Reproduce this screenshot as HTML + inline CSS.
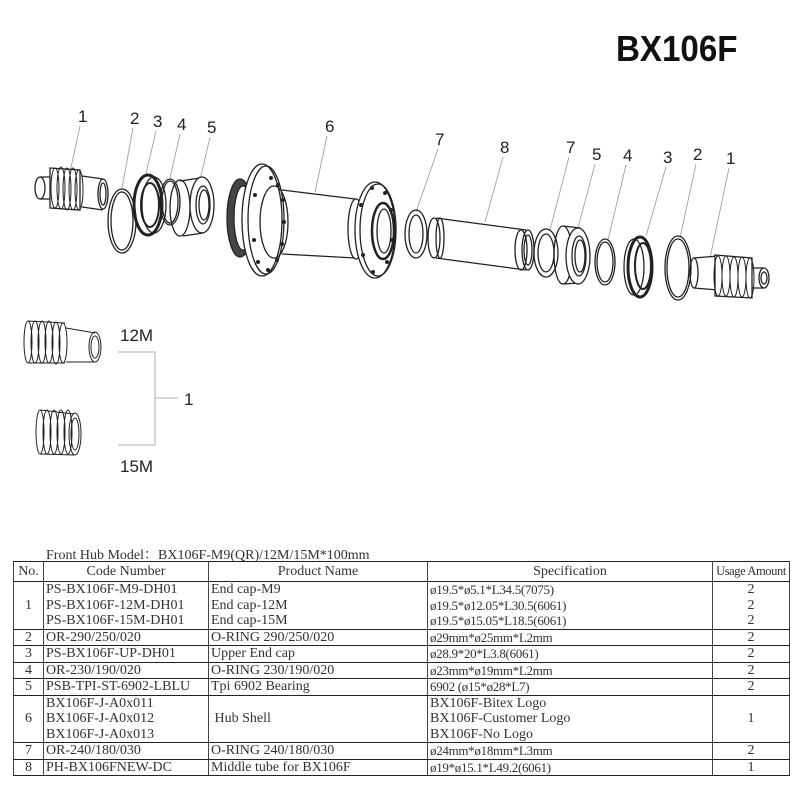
<!DOCTYPE html>
<html><head><meta charset="utf-8"><style>
body{margin:0;background:#fff;width:800px;height:800px;overflow:hidden;position:relative;font-family:"Liberation Sans",sans-serif}
#title{position:absolute;left:616px;top:28px;font-size:36px;font-weight:bold;color:#111;transform:scaleX(0.92);transform-origin:left}
table{position:absolute;left:13px;top:561px;border-collapse:collapse;font-family:"Liberation Serif","Noto Serif CJK SC",serif;font-size:14px;color:#333;table-layout:fixed}
td{border-left:1px solid #444;border-right:1px solid #444;padding:0 2px;line-height:15.5px;height:15.5px;white-space:nowrap;overflow:hidden}
tr.b td{border-bottom:1.5px solid #222}
tr.t td{border-top:1.5px solid #222}
.c{text-align:center}
.s{font-size:13px;letter-spacing:-0.3px}
#cap{position:absolute;left:46px;top:544px;font-family:"Liberation Serif","Noto Serif CJK SC",serif;font-size:14px;color:#333}
</style></head><body>
<div id="title">BX106F</div>
<svg width="800" height="540" style="position:absolute;left:0;top:0" fill="none" stroke="#222" stroke-width="1.3">
<g font-family="Liberation Sans,sans-serif" font-size="17" fill="#222" stroke="none">
<text x="78" y="122">1</text><text x="130" y="124">2</text><text x="153" y="127">3</text><text x="177" y="130">4</text><text x="207" y="133">5</text><text x="325" y="132">6</text><text x="435" y="145">7</text><text x="500" y="153">8</text><text x="566" y="153">7</text><text x="592" y="160">5</text><text x="623" y="161">4</text><text x="663" y="163">3</text><text x="693" y="160">2</text><text x="726" y="164">1</text>
<text x="120" y="341">12M</text><text x="120" y="472">15M</text><text x="184" y="405">1</text>
</g>
<g stroke="#999" stroke-width="0.8">
<line x1="80" y1="126" x2="70" y2="172"/><line x1="133" y1="128" x2="122" y2="188"/><line x1="156" y1="131" x2="146" y2="174"/><line x1="180" y1="134" x2="170" y2="178"/><line x1="210" y1="137" x2="200" y2="180"/><line x1="327" y1="136" x2="315" y2="192"/><line x1="438" y1="149" x2="416" y2="212"/><line x1="503" y1="157" x2="485" y2="222"/><line x1="569" y1="157" x2="550" y2="230"/><line x1="595" y1="164" x2="578" y2="228"/><line x1="626" y1="165" x2="608" y2="240"/><line x1="666" y1="167" x2="646" y2="236"/><line x1="696" y1="164" x2="680" y2="238"/><line x1="729" y1="168" x2="710" y2="258"/>
<polyline points="118,352 155,352 155,445 118,445"/><line x1="155" y1="398" x2="178" y2="398"/>
</g>
<ellipse cx="40" cy="188" rx="5" ry="11"/><path d="M40 177 L50 177 M40 199 L50 199"/>
<path d="M50 168 L80 170 L80 210 L50 208 Z" fill="#fff"/>
<g stroke-width="1"><ellipse cx="55" cy="188" rx="4" ry="20"/><ellipse cx="61" cy="188" rx="4" ry="21"/><ellipse cx="67" cy="189" rx="4" ry="21"/><ellipse cx="73" cy="189" rx="4" ry="21"/><ellipse cx="79" cy="190" rx="4" ry="20"/></g>
<path d="M82 176 L103 179 M82 207 L103 210"/><ellipse cx="103" cy="194" rx="5" ry="15"/><ellipse cx="103" cy="194" rx="3" ry="11"/>
<ellipse cx="122" cy="221" rx="14" ry="32"/><ellipse cx="122" cy="221" rx="11" ry="29"/>
<ellipse cx="148" cy="205" rx="14" ry="30" stroke-width="3"/><ellipse cx="150" cy="205" rx="9" ry="22" stroke-width="2"/><ellipse cx="154" cy="205" rx="12" ry="28"/>
<ellipse cx="170" cy="202" rx="10" ry="23"/><ellipse cx="170" cy="202" rx="8" ry="21"/>
<path d="M180 181 L200 178 M183 236 L203 233"/><ellipse cx="180" cy="208" rx="10" ry="28"/><ellipse cx="202" cy="205" rx="12" ry="28" fill="#fff"/><ellipse cx="203" cy="205" rx="7" ry="19"/><ellipse cx="204" cy="205" rx="5" ry="15"/>
<ellipse cx="240" cy="218" rx="13" ry="39" fill="#444"/><ellipse cx="243" cy="218" rx="9" ry="32" fill="#fff"/>
<ellipse cx="262" cy="220" rx="20" ry="56" fill="#fff"/><ellipse cx="266" cy="220" rx="18" ry="54"/><ellipse cx="274" cy="222" rx="14" ry="36"/>
<g fill="#222" stroke="none"><circle cx="271" cy="178" r="2"/><circle cx="278" cy="185" r="2"/><circle cx="283" cy="200" r="2"/><circle cx="284" cy="222" r="2"/><circle cx="282" cy="244" r="2"/><circle cx="277" cy="260" r="2"/><circle cx="268" cy="270" r="2"/><circle cx="258" cy="262" r="2"/><circle cx="254" cy="240" r="2"/><circle cx="255" cy="195" r="2"/></g>
<path d="M282 190 L355 199 M282 254 L355 258"/>
<ellipse cx="356" cy="229" rx="8" ry="30"/>
<ellipse cx="375" cy="230" rx="20" ry="48" fill="#fff"/><ellipse cx="378" cy="230" rx="18" ry="46"/><ellipse cx="383" cy="231" rx="11" ry="28" stroke-width="2.5"/><ellipse cx="384" cy="231" rx="7" ry="22"/>
<g fill="#222" stroke="none"><circle cx="372" cy="188" r="2"/><circle cx="385" cy="193" r="2"/><circle cx="391" cy="210" r="2"/><circle cx="392" cy="240" r="2"/><circle cx="387" cy="262" r="2"/><circle cx="373" cy="272" r="2"/><circle cx="363" cy="255" r="2"/><circle cx="361" cy="205" r="2"/></g>
<ellipse cx="416" cy="234" rx="11" ry="24"/><ellipse cx="416" cy="234" rx="7" ry="19"/>
<ellipse cx="434" cy="238" rx="6" ry="20" fill="#fff"/><path d="M436 218 L526 230 M436 258 L526 270"/><ellipse cx="440" cy="238" rx="4" ry="20"/>
<ellipse cx="521" cy="250" rx="6" ry="20"/><ellipse cx="528" cy="250" rx="6" ry="20"/><ellipse cx="528" cy="250" rx="4" ry="15"/>
<ellipse cx="546" cy="253" rx="12" ry="24"/><ellipse cx="546" cy="253" rx="8" ry="19"/>
<path d="M563 226 L580 228 M563 284 L580 283"/><ellipse cx="563" cy="255" rx="9" ry="29"/><ellipse cx="578" cy="256" rx="12" ry="28" fill="#fff"/><ellipse cx="579" cy="256" rx="7" ry="20"/><ellipse cx="580" cy="256" rx="5" ry="16"/>
<ellipse cx="605" cy="262" rx="10" ry="23"/><ellipse cx="605" cy="262" rx="8" ry="20"/>
<ellipse cx="640" cy="267" rx="12" ry="30" stroke-width="3"/><ellipse cx="643" cy="266" rx="8" ry="23" stroke-width="2"/><ellipse cx="634" cy="267" rx="10" ry="28"/>
<ellipse cx="678" cy="268" rx="13" ry="32"/><ellipse cx="678" cy="268" rx="11" ry="29"/>
<ellipse cx="694" cy="273" rx="4" ry="15"/><path d="M694 258 L718 256 M694 288 L718 290"/>
<path d="M715 255 L752 258 L752 298 L715 296 Z" fill="#fff"/>
<g stroke-width="1"><ellipse cx="718" cy="276" rx="4" ry="20"/><ellipse cx="726" cy="276" rx="4" ry="20"/><ellipse cx="734" cy="277" rx="4" ry="20"/><ellipse cx="742" cy="277" rx="4" ry="20"/><ellipse cx="750" cy="278" rx="4" ry="20"/></g>
<path d="M752 268 L764 268 M752 288 L764 288"/><ellipse cx="764" cy="278" rx="5" ry="10"/><ellipse cx="764" cy="278" rx="3" ry="6"/>
<g stroke-width="1">
<ellipse cx="28" cy="342" rx="4" ry="21"/><ellipse cx="35" cy="342" rx="4" ry="21"/><ellipse cx="42" cy="342" rx="4" ry="21"/><ellipse cx="49" cy="342" rx="4" ry="21"/><ellipse cx="56" cy="343" rx="4" ry="21"/><ellipse cx="63" cy="343" rx="4" ry="20"/>
<path d="M28 321 L65 323 M28 363 L65 363 M66 328 L95 333 M66 362 L95 362"/><ellipse cx="95" cy="347" rx="6" ry="15"/><ellipse cx="95" cy="347" rx="4" ry="11"/>
<ellipse cx="40" cy="432" rx="4" ry="22"/><ellipse cx="47" cy="432" rx="4" ry="22"/><ellipse cx="54" cy="432" rx="4" ry="22"/><ellipse cx="61" cy="432" rx="4" ry="22"/><ellipse cx="68" cy="432" rx="4" ry="22"/>
<path d="M40 410 L74 414 M40 454 L74 455"/><ellipse cx="75" cy="434" rx="6" ry="21"/><ellipse cx="75" cy="434" rx="4" ry="16"/>
</g>
</svg>
<div id="cap">Front Hub Model：BX106F-M9(QR)/12M/15M*100mm</div>
<table>
<colgroup><col style="width:30px"><col style="width:165px"><col style="width:219px"><col style="width:285px"><col style="width:77px"></colgroup>
<tr class="t b" style="height:20px"><td class="c">No.</td><td class="c">Code Number</td><td class="c">Product Name</td><td class="c">Specification</td><td class="c" style="font-size:12.5px;letter-spacing:-0.4px">Usage Amount</td></tr>
<tr class="b"><td class="c">1</td><td>PS-BX106F-M9-DH01<br>PS-BX106F-12M-DH01<br>PS-BX106F-15M-DH01</td><td>End cap-M9<br>End cap-12M<br>End cap-15M</td><td class="s">ø19.5*ø5.1*L34.5(7075)<br>ø19.5*ø12.05*L30.5(6061)<br>ø19.5*ø15.05*L18.5(6061)</td><td class="c">2<br>2<br>2</td></tr>
<tr class="b"><td class="c">2</td><td>OR-290/250/020</td><td>O-RING 290/250/020</td><td class="s">ø29mm*ø25mm*L2mm</td><td class="c">2</td></tr>
<tr class="b"><td class="c">3</td><td>PS-BX106F-UP-DH01</td><td>Upper End cap</td><td class="s">ø28.9*20*L3.8(6061)</td><td class="c">2</td></tr>
<tr class="b"><td class="c">4</td><td>OR-230/190/020</td><td>O-RING 230/190/020</td><td class="s">ø23mm*ø19mm*L2mm</td><td class="c">2</td></tr>
<tr class="b"><td class="c">5</td><td>PSB-TPI-ST-6902-LBLU</td><td>Tpi 6902 Bearing</td><td class="s">6902 (ø15*ø28*L7)</td><td class="c">2</td></tr>
<tr class="b"><td class="c">6</td><td>BX106F-J-A0x011<br>BX106F-J-A0x012<br>BX106F-J-A0x013</td><td>&nbsp;Hub Shell</td><td>BX106F-Bitex Logo<br>BX106F-Customer Logo<br>BX106F-No Logo</td><td class="c">1</td></tr>
<tr class="b"><td class="c">7</td><td>OR-240/180/030</td><td>O-RING 240/180/030</td><td class="s">ø24mm*ø18mm*L3mm</td><td class="c">2</td></tr>
<tr class="b"><td class="c">8</td><td>PH-BX106FNEW-DC</td><td>Middle tube for BX106F</td><td class="s">ø19*ø15.1*L49.2(6061)</td><td class="c">1</td></tr>
</table>
</body></html>
